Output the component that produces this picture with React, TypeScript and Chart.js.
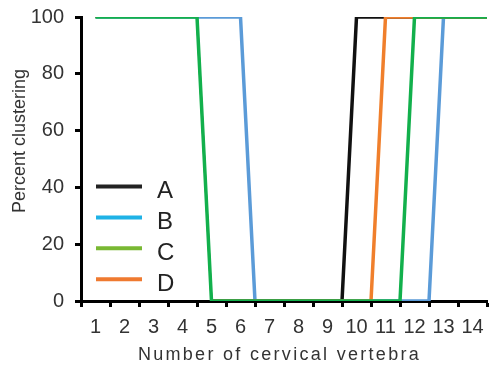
import React, { useEffect, useRef } from 'react';
import { Chart, registerables } from 'chart.js';

Chart.register(...registerables);

// ---- data ----
const seriesLabels = ['A', 'B', 'C', 'D'];
const xA = [1, 4.5, 5, 9.5, 10, 14.5];
const yA = [100, 100, 0, 0, 100, 100];
const xB = [1, 6, 6.5, 12.5, 13, 14.5];
const yB = [100, 100, 0, 0, 100, 100];
const xC = [1, 4.5, 5, 11.5, 12, 14.5];
const yC = [100, 100, 0, 0, 100, 100];
const xD = [1, 4.5, 5, 10.5, 11, 14.5];
const yD = [100, 100, 0, 0, 100, 100];
const xTickLabels = ['1', '2', '3', '4', '5', '6', '7', '8', '9', '10', '11', '12', '13', '14'];
const yTickValues = [0, 20, 40, 60, 80, 100];
const xTitle = 'Number of cervical vertebra';
const yTitle = 'Percent clustering';

// ---- styles ----
const lineColors = ['#111111', '#5b9bd8', '#12b04c', '#f07f2c'];
const legendColors = ['#222222', '#1fb2e6', '#79b833', '#ef7a30'];
const drawOrder = [2, 3, 0, 1];
const sharedWithC = [true, false, false, true];
const FONT = "'Liberation Sans', Arial, Helvetica, sans-serif";

const zip = (xs: number[], ys: number[]) => xs.map((x, i) => ({ x, y: ys[i] }));

const zeroPad = (scale: any) => {
  scale.paddingTop = 0;
  scale.paddingBottom = 0;
  scale.paddingLeft = 0;
  scale.paddingRight = 0;
};

const overlayPlugin = {
  id: 'overlay',
  afterDraw(chart: any) {
    const ctx = chart.ctx as CanvasRenderingContext2D;
    const { left, bottom, right } = chart.chartArea;
    ctx.save();
    // legend inside plot
    ctx.font = `24px ${FONT}`;
    ctx.textAlign = 'left';
    ctx.textBaseline = 'alphabetic';
    seriesLabels.forEach((lab, i) => {
      const y = bottom - 114.5 + i * 30.9;
      ctx.strokeStyle = legendColors[i];
      ctx.lineWidth = 4;
      ctx.lineCap = 'butt';
      ctx.beginPath();
      ctx.moveTo(left + 15, y);
      ctx.lineTo(left + 61, y);
      ctx.stroke();
      ctx.fillStyle = '#222222';
      ctx.fillText(lab, left + 76, y + 11.5);
    });
    // x title
    ctx.fillStyle = '#333333';
    ctx.font = `18px ${FONT}`;
    (ctx as any).letterSpacing = '2.3px';
    ctx.textAlign = 'center';
    ctx.fillText(xTitle, (left + right) / 2 - 4.5, 360);
    (ctx as any).letterSpacing = '0px';
    // y title
    ctx.translate(25, 141);
    ctx.rotate(-Math.PI / 2);
    ctx.textAlign = 'center';
    ctx.fillText(yTitle, 0, 0);
    ctx.restore();
  },
};

export default function App() {
  const ref = useRef<HTMLCanvasElement | null>(null);
  useEffect(() => {
    if (!ref.current) return;
    const xs = [xA, xB, xC, xD];
    const ys = [yA, yB, yC, yD];
    const chart = new Chart(ref.current, {
      type: 'line',
      data: {
        datasets: seriesLabels.map((label, i) => ({
          label,
          data: zip(xs[i], ys[i]),
          borderColor: lineColors[i],
          backgroundColor: lineColors[i],
          borderWidth: 3.5,
          pointRadius: 0,
          tension: 0,
          fill: false,
          borderJoinStyle: 'miter' as const,
          order: drawOrder[i],
          segment: sharedWithC[i]
            ? { borderWidth: (c: any) => (c.p0DataIndex <= 1 ? 2 : 3.5) }
            : undefined,
        })),
      },
      options: {
        animation: false,
        responsive: false,
        maintainAspectRatio: false,
        layout: { padding: { left: 0, top: 17, right: 2, bottom: 0 } },
        plugins: { legend: { display: false }, tooltip: { enabled: false } },
        scales: {
          x: {
            type: 'linear',
            min: 0.5,
            max: xTickLabels.length + 0.5,
            afterBuildTicks: (scale: any) => {
              const t: any[] = [];
              xTickLabels.forEach((_, i) => {
                t.push({ value: i + 0.5 });
                t.push({ value: i + 1 });
              });
              t.push({ value: xTickLabels.length + 0.5 });
              scale.ticks = t;
            },
            afterFit: (scale: any) => {
              scale.height = 68;
              zeroPad(scale);
            },
            ticks: {
              autoSkip: false,
              maxRotation: 0,
              minRotation: 0,
              padding: 8,
              color: '#333333',
              font: { family: FONT, size: 20 },
              callback: (v: any) => {
                const n = Number(v);
                return Number.isInteger(n) ? xTickLabels[n - 1] : '';
              },
            },
            grid: {
              drawOnChartArea: false,
              drawTicks: true,
              tickLength: 6,
              tickWidth: 3,
              tickColor: (c: any) =>
                c.tick && !Number.isInteger(c.tick.value) ? '#000000' : 'rgba(0,0,0,0)',
            },
            border: { display: true, color: '#000000', width: 3 },
          },
          y: {
            min: 0,
            max: 100,
            afterBuildTicks: (scale: any) => {
              scale.ticks = yTickValues.map((value) => ({ value }));
            },
            afterFit: (scale: any) => {
              scale.width = 81;
              zeroPad(scale);
            },
            ticks: {
              padding: 11,
              color: '#333333',
              font: { family: FONT, size: 20 },
            },
            grid: {
              drawOnChartArea: false,
              drawTicks: true,
              tickLength: 6,
              tickWidth: 3,
              tickColor: '#000000',
            },
            border: { display: true, color: '#000000', width: 3 },
          },
        },
      },
      plugins: [overlayPlugin],
    });
    return () => chart.destroy();
  }, []);
  return (
    <div style={{ position: 'fixed', left: 0, top: 0, width: 489, height: 369, background: '#fff' }}>
      <canvas ref={ref} width={489} height={369} style={{ display: 'block' }} />
    </div>
  );
}
